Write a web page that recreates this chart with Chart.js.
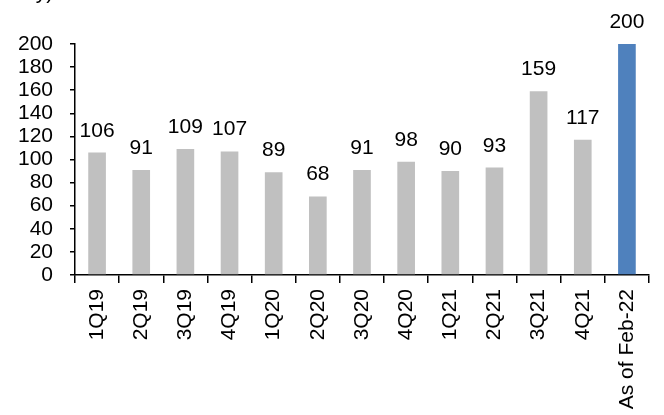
<!DOCTYPE html>
<html>
<head>
<meta charset="utf-8">
<script src="https://cdn.jsdelivr.net/npm/chart.js@4/dist/chart.umd.min.js"></script>
<style>
  html, body { margin: 0; padding: 0; background: #fff; }
  #wrap { width: 664px; height: 415px; position: relative; }
</style>
</head>
<body>
<div id="wrap"><canvas id="dealsChart" width="664" height="415"></canvas></div>
<script>
// quarterly counts, last column is the year-to-date figure
const quarters = ["1Q19", "2Q19", "3Q19", "4Q19", "1Q20", "2Q20", "3Q20", "4Q20", "1Q21", "2Q21", "3Q21", "4Q21", "As of Feb-22"];
const counts = [106, 91, 109, 107, 89, 68, 91, 98, 90, 93, 159, 117, 200];
const barColors = ["#c0c0c0", "#c0c0c0", "#c0c0c0", "#c0c0c0", "#c0c0c0", "#c0c0c0", "#c0c0c0", "#c0c0c0", "#c0c0c0", "#c0c0c0", "#c0c0c0", "#c0c0c0", "#4f81bd"];
const yTicks = [0, 20, 40, 60, 80, 100, 120, 140, 160, 180, 200];

const FONT = "Arial, 'Liberation Sans', sans-serif";

// value labels over each bar, plus the clipped title tail at the top
const barLabels = {
  id: "barLabels",
  afterDatasetsDraw(chart) {
    const { ctx } = chart;
    const meta = chart.getDatasetMeta(0);
    ctx.save();
    ctx.font = "21px " + FONT;
    ctx.fillStyle = "#000";
    ctx.textAlign = "center";
    ctx.textBaseline = "alphabetic";
    meta.data.forEach(function (bar, i) {
      ctx.fillText(String(counts[i]), bar.x, bar.y - 16);
    });
    ctx.textAlign = "left";
    ctx.fillText("ay)", 24, -1);
    ctx.restore();
  },
};

const ctx = document.getElementById("dealsChart").getContext("2d");

new Chart(ctx, {
  type: "bar",
  data: {
    labels: quarters,
    datasets: [
      {
        data: counts,
        backgroundColor: barColors,
        borderWidth: 0,
        barPercentage: 0.4,
        categoryPercentage: 1,
      },
    ],
  },
  options: {
    responsive: false,
    animation: false,
    layout: {
      padding: { top: 44, right: 15, left: 0, bottom: 0 },
    },
    scales: {
      x: {
        grid: {
          drawOnChartArea: false,
          drawTicks: true,
          tickLength: 8,
          color: "#000",
          lineWidth: 1.5,
        },
        border: { color: "#000", width: 1.5 },
        ticks: {
          color: "#000",
          font: { family: FONT, size: 21 },
          minRotation: 90,
          maxRotation: 90,
          autoSkip: false,
          padding: 6,
        },
        afterFit(scale) {
          scale.height = 140;
        },
      },
      y: {
        min: 0,
        max: 200,
        afterBuildTicks(scale) {
          scale.ticks = yTicks.map(function (v) { return { value: v }; });
        },
        grid: {
          drawOnChartArea: false,
          drawTicks: true,
          tickLength: 5,
          color: "#000",
          lineWidth: 1.5,
        },
        border: { color: "#000", width: 1.5 },
        ticks: {
          color: "#000",
          font: { family: FONT, size: 21 },
          padding: 17,
          autoSkip: false,
        },
        afterFit(scale) {
          scale.width = 75;
        },
      },
    },
    plugins: {
      legend: { display: false },
      tooltip: { enabled: false },
    },
  },
  plugins: [barLabels],
});
</script>
</body>
</html>
